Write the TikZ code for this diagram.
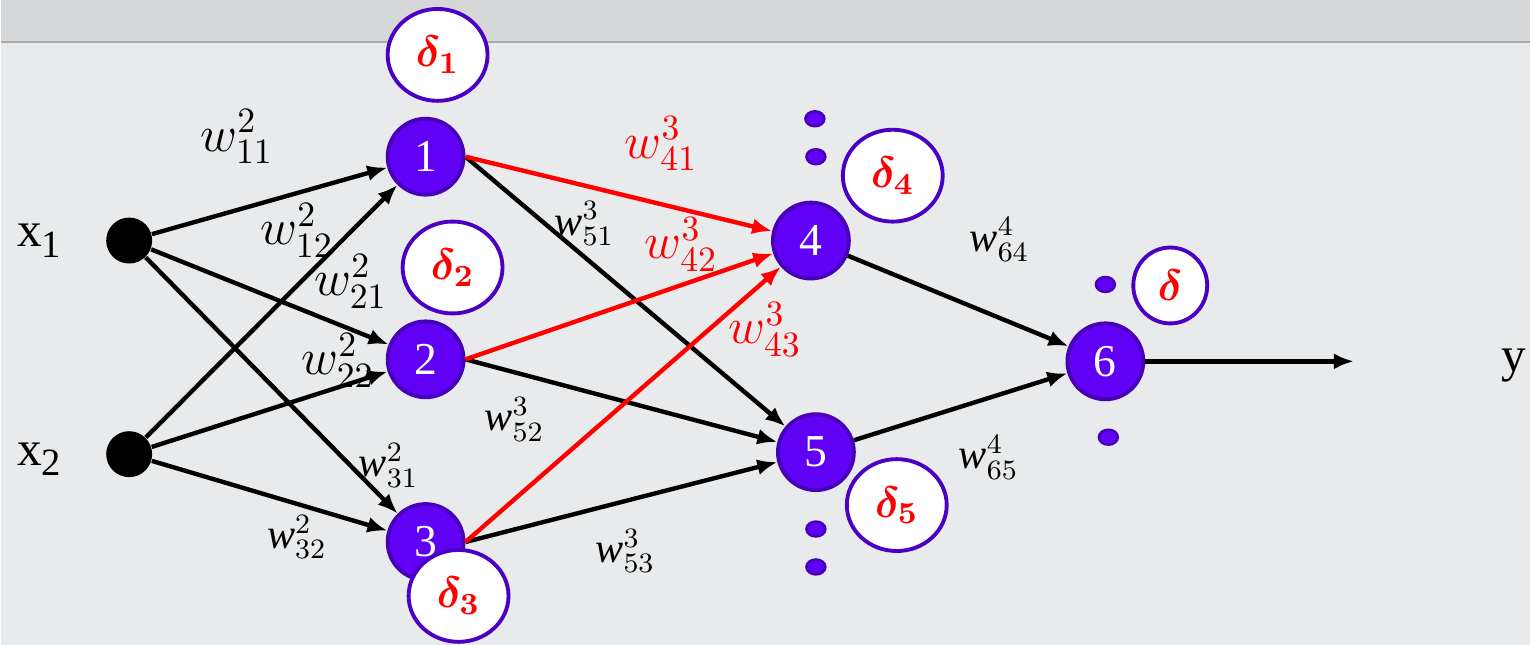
\RequirePackage{fix-cm}
\documentclass[tikz,border=0pt]{standalone}
\usepackage{amsmath,amssymb,bm}
\usepackage{fontspec}
\setmainfont{Liberation Serif}
\usepackage{tikz}
\usetikzlibrary{
  arrows.meta,
  positioning,
  shapes.geometric
}

\definecolor{nfill}{RGB}{96,0,245}
\definecolor{nline}{RGB}{72,0,185}
\definecolor{dline}{RGB}{75,0,195}
\definecolor{marble}{RGB}{233,234,235}
\definecolor{marbletop}{RGB}{214,215,216}

\tikzset{
  neuron/.style={circle, fill=nfill, draw=nline, line width=1.1pt,
    minimum size=0.76cm, inner sep=0pt, text=white,
    font=\fontsize{13}{13}\selectfont},
  inp/.style={circle, fill=black, minimum size=0.46cm, inner sep=0pt},
  errbox/.style={ellipse, fill=white, draw=dline, line width=1.1pt,
    minimum width=1.0cm, minimum height=0.92cm, inner sep=0pt, text=red,
    font=\fontsize{12.5}{12.5}\selectfont},
  vdot/.style={ellipse, fill=nfill, draw=nline, line width=0.7pt,
    minimum width=0.19cm, minimum height=0.15cm, inner sep=0pt},
  conn/.style={line width=1.25pt, -{Latex[length=0.2cm,width=0.16cm]}},
  wbig/.style={font=\fontsize{14.5}{14.5}\selectfont, inner sep=0pt},
  wsml/.style={font=\fontsize{12}{12}\selectfont, inner sep=0pt},
  iolabel/.style={font=\fontsize{14}{14}\selectfont, inner sep=0pt}
}

\begin{document}
\begin{tikzpicture}[x=0.01cm, y=-0.01cm]
    % Marble background
    \fill[marble] (0,0) rectangle (1531,646);
    \fill[marbletop] (0,0) rectangle (1531,42);
    \draw[gray!65, line width=0.8pt] (0,42) -- (1531,42);
    \useasboundingbox (0,0) rectangle (1531,646);

    % Inputs and output
    \node[inp] (x1) at (128,241) {};
    \node[inp] (x2) at (128,455) {};
    \node[iolabel] (lx1) at (38,241) {x\raisebox{-3pt}{\fontsize{11}{11}\selectfont 1}};
    \node[iolabel] (lx2) at (38,460) {x\raisebox{-3pt}{\fontsize{11}{11}\selectfont 2}};
    \coordinate (out) at (1355,362);
    \node[iolabel] (ly) at (1515,366) {y};

    % Neurons
    \node[neuron] (n1) at (425,157) {1};
    \node[neuron] (n2) at (425,360) {2};
    \node[neuron] (n3) at (425,543) {3};
    \node[neuron] (n4) at (811,241) {4};
    \node[neuron] (n5) at (816,453) {5};
    \node[neuron] (n6) at (1106,362) {6};

    % Layer 2 weights
    \foreach \s in {x1,x2} {
        \foreach \t in {n1,n2,n3} {
            \draw[conn] (\s) -- (\t);
        }
    }

    % Layer 3 weights
    \foreach \s in {n1,n2,n3} {
        \draw[conn] (\s.east) -- (n5);
        \draw[conn, red] (\s.east) -- (n4);
    }

    % Output layer
    \draw[conn] (n4) -- (n6);
    \draw[conn] (n5) -- (n6);
    \draw[conn] (n6) -- (out);

    % Weight labels
    \node[wbig] (w11) at (236,137) {$w^{2}_{11}$};
    \node[wbig] (w12) at (296,231) {$w^{2}_{12}$};
    \node[wbig] (w21) at (350,282) {$w^{2}_{21}$};
    \node[wbig] (w22) at (337,361) {$w^{2}_{22}$};
    \node[wsml] (w31) at (388,466) {$\mathit{w}^{2}_{31}$};
    \node[wsml] (w32) at (296,538) {$\mathit{w}^{2}_{32}$};
    \node[wbig, text=red] (w41) at (661,144) {$w^{3}_{41}$};
    \node[wbig, text=red] (w42) at (681,245) {$w^{3}_{42}$};
    \node[wbig, text=red] (w43) at (765,330) {$w^{3}_{43}$};
    \node[wsml] (w51) at (584,224) {$\mathit{w}^{3}_{51}$};
    \node[wsml] (w52) at (514,420) {$\mathit{w}^{3}_{52}$};
    \node[wsml] (w53) at (625,552) {$\mathit{w}^{3}_{53}$};
    \node[wsml] (w64) at (1000,240) {$\mathit{w}^{4}_{64}$};
    \node[wsml] (w65) at (989,458) {$\mathit{w}^{4}_{65}$};

    % Error terms
    \node[errbox] (d1) at (437,55) {$\bm{\delta}_{\bm{1}}$};
    \node[errbox] (d2) at (452,268) {$\bm{\delta}_{\bm{2}}$};
    \node[errbox] (d3) at (458,597) {$\bm{\delta}_{\bm{3}}$};
    \node[errbox] (d4) at (893,176) {$\bm{\delta}_{\bm{4}}$};
    \node[errbox] (d5) at (897,506) {$\bm{\delta}_{\bm{5}}$};
    \node[errbox, minimum width=0.74cm, minimum height=0.76cm] (d6) at (1171,286) {$\bm{\delta}$};

    % Dots for further neurons
    \node[vdot] (v1) at (815,119) {};
    \node[vdot] (v2) at (816,157) {};
    \node[vdot] (v3) at (816,530) {};
    \node[vdot] (v4) at (816,568) {};
    \node[vdot] (v5) at (1106,285) {};
    \node[vdot] (v6) at (1109,438) {};
\end{tikzpicture}
\end{document}
